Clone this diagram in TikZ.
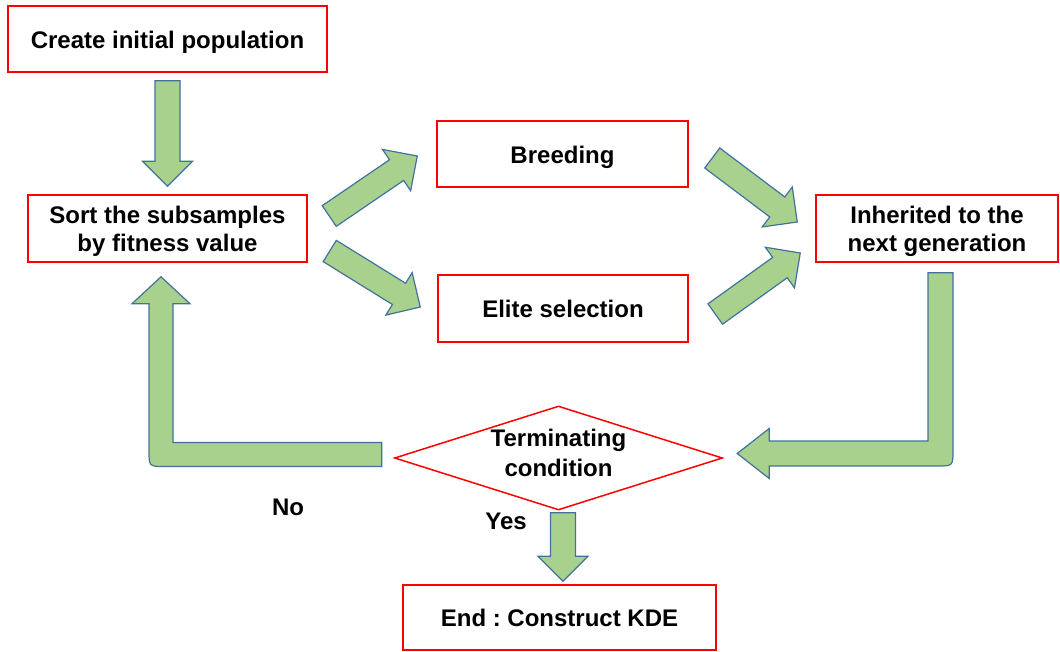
\documentclass[tikz,border=0pt]{standalone}
\usepackage{fontspec}
\setmainfont{Liberation Sans}
\frenchspacing
\usetikzlibrary{calc}
\definecolor{arrowgreen}{HTML}{A9D18E}
\definecolor{arrowedge}{HTML}{41719C}

% straight block arrow from tail #1 to tip #2
\newcommand{\fatarrow}[2]{%
  \draw[blockarrow] let \p1=($(#2)!25pt!(#1)$) in
    ($(#1)!12.5pt!90:(#2)$) -- ($(\p1)!12.5pt!90:(#2)$) -- ($(\p1)!25pt!90:(#2)$) -- (#2)
    -- ($(\p1)!25pt!-90:(#2)$) -- ($(\p1)!12.5pt!-90:(#2)$) -- ($(#1)!12.5pt!-90:(#2)$) -- cycle;}

\begin{document}
\begin{tikzpicture}[
  x=1pt, y=-1pt,
  every node/.style={font=\fontsize{24}{28.5}\selectfont\bfseries, align=center, inner sep=4pt},
  box/.style={draw=red, line width=1.5pt, fill=white, text height=23.5pt, text depth=5pt},
  twoline/.style={text height=51.5pt, text depth=5pt},
  decision/.style={minimum width=327pt, minimum height=103pt, font=\fontsize{24}{30}\selectfont\bfseries,
    text height=42.5pt, text depth=5pt},
  blockarrow/.style={draw=arrowedge, line width=1.2pt, fill=arrowgreen, line join=miter},
  answer/.style={inner sep=0pt}
]
\useasboundingbox (0,0) rectangle (1060,652);

\node[box, minimum width=319pt, minimum height=66pt] (create) at (167.5,39) {Create initial population};
\node[box, twoline, minimum width=279pt, minimum height=67pt] (sort) at (167.5,228.5) {Sort the subsamples\\by fitness value};
\node[box, minimum width=251pt, minimum height=66pt] (breeding) at (562.5,154) {Breeding};
\node[box, minimum width=250pt, minimum height=67pt] (elite) at (563,308.5) {Elite selection};
\node[box, twoline, minimum width=242pt, minimum height=67pt] (inherited) at (937,228.5) {Inherited to the\\next generation};
\node[decision] (cond) at (558.5,458) {Terminating\\condition};
\draw[red, line width=1.5pt] (cond.west) -- (cond.north) -- (cond.east) -- (cond.south) -- cycle;
\node[box, minimum width=313pt, minimum height=65pt] (kde) at (559.5,617.5) {End : Construct KDE};

\node[answer] (no) at (288,507) {No};
\node[answer] (yes) at (506,521) {Yes};

% arrow ends
\coordinate (a1) at ([yshift=-8pt]create.south);
\coordinate (b1) at ([yshift=8pt]sort.north);
\coordinate (a2) at ([shift={(21.5pt,12.5pt)}]sort.east);
\coordinate (b2) at ([shift={(-19pt,-2pt)}]breeding.west);
\coordinate (a3) at ([shift={(22pt,-22.5pt)}]sort.east);
\coordinate (b3) at ([shift={(-17pt,1.5pt)}]elite.west);
\coordinate (a4) at ([shift={(23.5pt,-4pt)}]breeding.east);
\coordinate (b4) at ([shift={(-18pt,6.5pt)}]inherited.west);
\coordinate (a5) at ([shift={(26.5pt,-5.5pt)}]elite.east);
\coordinate (b5) at ([shift={(-15pt,-24.5pt)}]inherited.west);
\coordinate (a6) at ([shift={(4.5pt,-3pt)}]cond.south);
\coordinate (b6) at ([shift={(3.5pt,3pt)}]kde.north);
\coordinate (notail) at ([shift={(-13pt,3.5pt)}]cond.west);
\coordinate (notip) at ([shift={(-6.5pt,-14pt)}]sort.south);
\coordinate (backtop) at ([shift={(3.5pt,-10pt)}]inherited.south);
\coordinate (backtip) at ([shift={(15pt,4.5pt)}]cond.east);

\fatarrow{a1}{b1}
\fatarrow{a2}{b2}
\fatarrow{a3}{b3}
\fatarrow{a4}{b4}
\fatarrow{a5}{b5}
\fatarrow{a6}{b6}

% bent arrow back to sorting
\draw[blockarrow] let \p1=(notail), \p2=(notip) in
  (\x1,{\y1+12pt}) -- ({\x2+12pt},{\y1+12pt}) -- ({\x2+12pt},{\y2-27pt}) -- ({\x2+29pt},{\y2-27pt})
  -- (\x2,\y2) -- ({\x2-29pt},{\y2-27pt}) -- ({\x2-12pt},{\y2-27pt}) -- ({\x2-12pt},{\y1+4pt})
  .. controls ({\x2-12pt},{\y1-12pt}) .. ({\x2+4pt},{\y1-12pt}) -- (\x1,{\y1-12pt}) -- cycle;

% bent arrow into the condition
\draw[blockarrow] let \p1=(backtop), \p2=(backtip) in
  ({\x1-12.5pt},\y1) -- ({\x1+12.5pt},\y1) -- ({\x1+12.5pt},{\y2+3.5pt})
  .. controls ({\x1+12.5pt},{\y2-12.5pt}) .. ({\x1-3.5pt},{\y2-12.5pt}) -- ({\x2+32pt},{\y2-12.5pt})
  -- ({\x2+32pt},{\y2-25pt}) -- (\x2,\y2) -- ({\x2+32pt},{\y2+25pt}) -- ({\x2+32pt},{\y2+12.5pt})
  -- ({\x1-12.5pt},{\y2+12.5pt}) -- cycle;
\end{tikzpicture}
\end{document}
